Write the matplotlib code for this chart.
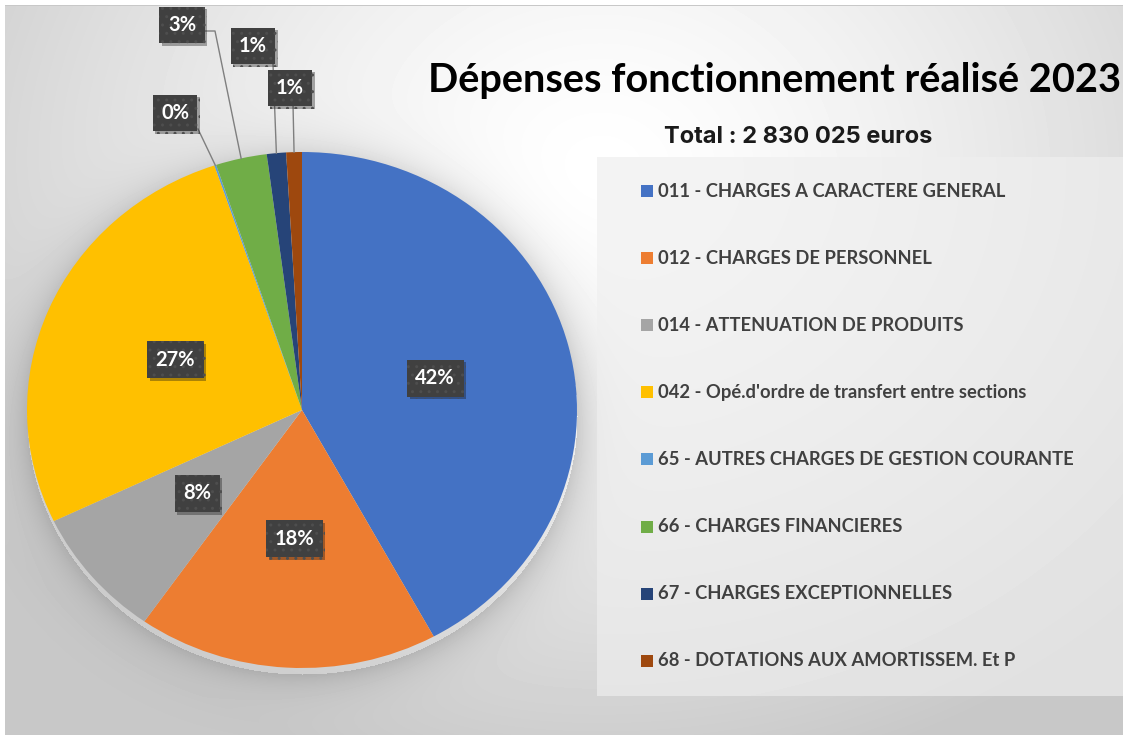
import numpy as np
import matplotlib
matplotlib.use("Agg")
from matplotlib import pyplot as plt
from matplotlib import patheffects as pe

# data (euros), percentages shown on the pie
categories = ["011 - CHARGES A CARACTERE GENERAL",
              "012 - CHARGES DE PERSONNEL",
              "014 - ATTENUATION DE PRODUITS",
              "042 - Opé.d'ordre de transfert entre sections",
              "65 - AUTRES CHARGES DE GESTION COURANTE",
              "66 - CHARGES FINANCIERES",
              "67 - CHARGES EXCEPTIONNELLES",
              "68 - DOTATIONS AUX AMORTISSEM. Et P"]
values = [1190000, 500000, 232000, 762000, 3000, 85000, 32000, 26025]
colors = ["#4472C4", "#ED7D31", "#A5A5A5", "#FFC000",
          "#5B9BD5", "#70AD47", "#264478", "#9E480E"]
title = "Dépenses fonctionnement réalisé 2023"
total_txt = "Total : 2 830 025 euros"

W, H = 1123, 735
fig = plt.figure(figsize=(W / 100, H / 100), dpi=100)

# ---- background (radial grey gradient + pie shadow + legend panel)
yy, xx = np.mgrid[0:H, 0:W].astype(float)
d = np.sqrt(((xx - 600) / 750) ** 2 + ((yy - 170) / 620) ** 2)
val = 255 - 55 * np.clip(d, 0, 1) ** 1.4
e = np.sqrt(((xx - 302) / 275) ** 2 + ((yy - 416) / 258) ** 2)
shade = np.where(e > 1, 0.15 * np.exp(-(e - 1) * 258 / 18), 0)
val = val * (1 - shade)
leg = (xx >= 597) & (yy >= 157) & (yy <= 695)
val[leg] = 0.35 * val[leg] + 0.65 * 238
val[:5, :] = 255
val[5, 5:] = 200
val[:, :5] = 255

bg = fig.add_axes([0, 0, 1, 1])
bg.imshow(val, cmap="gray", vmin=0, vmax=255, extent=(0, W, H, 0),
          interpolation="bilinear", aspect="auto")
bg.set_xlim(0, W)
bg.set_ylim(H, 0)
bg.axis("off")

# ---- pie (slightly wider than tall, like the source)
cx, cy, rx, ry = 302, 410, 275, 258
pax = fig.add_axes([(cx - rx) / W, (H - cy - ry) / H, 2 * rx / W, 2 * ry / H])
wedges, _ = pax.pie(values, colors=colors, startangle=90, counterclock=False,
                    wedgeprops=dict(linewidth=0))
pax.set_aspect("auto")
pax.set_xlim(-1, 1)
pax.set_ylim(-1, 1)
pax.axis("off")

ov = fig.add_axes([0, 0, 1, 1])
ov.set_xlim(0, W)
ov.set_ylim(H, 0)
ov.axis("off")
ov.patch.set_alpha(0)


def to_px(x, y):
    p = pax.transData.transform((x, y))
    return ov.transData.inverted().transform(p)


# label boxes for small slices placed outside with leader lines
outside = {4: ((175, 113), [(198, 129)]),
           5: ((182, 25), [(205, 31), (215, 31)]),
           6: ((253, 46), [(273, 64)]),
           7: ((290, 88), [(293, 104)])}

total = sum(values)
box = dict(boxstyle="square,pad=0.42", facecolor="#404040", edgecolor="#4e4e4e",
           linewidth=0, hatch="..")
for i, w in enumerate(wedges):
    pct = "%d%%" % round(values[i] / total * 100)
    mid = np.deg2rad((w.theta1 + w.theta2) / 2)
    if i in outside:
        pos, anchors = outside[i]
        ex, ey = to_px(np.cos(mid), np.sin(mid))
        pts = anchors + [(ex, ey)]
        ov.plot([p[0] for p in pts], [p[1] for p in pts], color="#7f7f7f", lw=1)
    else:
        pos = to_px(0.5 * np.cos(mid), 0.5 * np.sin(mid))
    t = ov.text(pos[0], pos[1], pct, ha="center", va="center", color="white",
                fontsize=14.5, fontweight="bold", family="Lato", bbox=box)
    t.get_bbox_patch().set_path_effects(
        [pe.SimplePatchShadow(offset=(2, -2), alpha=0.35), pe.Normal()])

# ---- titles
ov.text(428, 80, title, ha="left", va="center", fontsize=28.6,
        fontweight="bold", family="Lato", color="black")
ov.text(798, 137, total_txt, ha="center", va="center", fontsize=17,
        fontweight="bold", family="Inter", color="#1a1a1a")

# ---- legend
for i, lab in enumerate(categories):
    y = 191 + i * 67.1
    ov.scatter([647], [y], marker="s", s=70, color=colors[i], linewidths=0)
    ov.text(658, y, lab, ha="left", va="center", fontsize=13.2,
            fontweight="bold", family="Lato", color="#404040")

fig.savefig("out.png", dpi=100)
